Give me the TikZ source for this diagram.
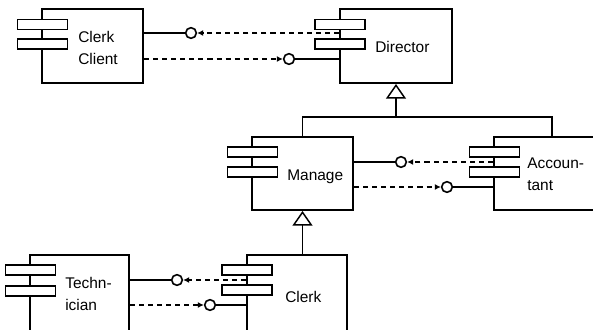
\documentclass[tikz,border=0pt]{standalone}
\usepackage{fontspec}
\setmainfont{Liberation Sans}
\usepackage{tikz}
\usetikzlibrary{arrows.meta}

\tikzset{
  comp/.style={draw, line width=1.5pt, inner sep=0pt},
  tab/.style={draw, fill=white, line width=1.2pt, inner sep=0pt, minimum width=37.5pt, minimum height=7.5pt},
  lolli/.style={draw, circle, line width=1.2pt, inner sep=0pt, minimum size=8pt},
  iface/.style={line width=1.1pt},
  dep/.style={line width=1.1pt, dash pattern=on 3.8pt off 3pt, -{Latex[length=4.5pt,width=4.5pt]}},
  gen/.style={line width=1.1pt, -{Triangle[open,length=11pt,width=15pt,line width=1.1pt]}},
  lbl/.style={anchor=west, inner sep=0pt, align=left, font=\fontsize{11.6}{16.5}\selectfont}
}

\begin{document}
\begin{tikzpicture}[x=0.75pt,y=0.75pt,yscale=-1,xscale=1]
	\useasboundingbox (0,0) rectangle (593,329);
	\clip (0,0) rectangle (593,329);
	
	%Shape: Component [Clerk Client]
	\node [comp, minimum width=75.75pt, minimum height=55.5pt] (cc) at (92.5,46) {};
	\node [tab] (cct1) at (42.5,24.5) {};
	\node [tab] (cct2) at (42.5,44) {};
	% Text Node
	\node [lbl] (cctxt) at (78,47.5) {Clerk\\Client};
	
	%Shape: Component [Director]
	\node [comp, minimum width=84pt, minimum height=55.5pt] (dir) at (396,46) {};
	\node [tab] (dirt1) at (340,24.5) {};
	\node [tab] (dirt2) at (340,44) {};
	% Text Node
	\node [lbl] (dirtxt) at (375,47) {Director};
	
	%Shape: Component [Manage]
	\node [comp, minimum width=75.75pt, minimum height=54.75pt] (man) at (302.5,173.5) {};
	\node [tab] (mant1) at (252.5,152) {};
	\node [tab] (mant2) at (252.5,172) {};
	% Text Node
	\node [lbl] (mantxt) at (287,177) {Manage};
	
	%Shape: Component [Accountant]
	\node [comp, minimum width=87pt, minimum height=54.75pt] (acc) at (552,173.5) {};
	\node [tab] (acct1) at (494.5,152) {};
	\node [tab] (acct2) at (494.5,172) {};
	% Text Node
	\node [lbl] (acctxt) at (527,174) {Accoun-\\tant};
	
	%Shape: Component [Technician]
	\node [comp, minimum width=74.25pt, minimum height=67.5pt] (tec) at (79.5,300) {};
	\node [tab] (tect1) at (30.5,270) {};
	\node [tab] (tect2) at (30.5,291) {};
	% Text Node
	\node [lbl] (tectxt) at (65,294) {Techn-\\ician};
	
	%Shape: Component [Clerk]
	\node [comp, minimum width=75pt, minimum height=67.5pt] (clk) at (297,300) {};
	\node [tab] (clkt1) at (247,270) {};
	\node [tab] (clkt2) at (247,290) {};
	% Text Node
	\node [lbl] (clktxt) at (285,297) {Clerk};
	
	%Interfaces: Clerk Client -- Director
	\node [lolli] (ccif) at (191,33) {};
	\node [lolli] (dirif) at (289,59) {};
	\draw [iface] (cc.east |- ccif) -- (ccif);
	\draw [dep] (dir.west |- ccif) -- (ccif);
	\draw [dep] (cc.east |- dirif) -- (dirif);
	\draw [iface] (dirif) -- (dir.west |- dirif);
	
	%Interfaces: Manage -- Accountant
	\node [lolli] (manif) at (401,162) {};
	\node [lolli] (accif) at (447,187) {};
	\draw [iface] (man.east |- manif) -- (manif);
	\draw [dep] (acc.west |- manif) -- (manif);
	\draw [dep] (man.east |- accif) -- (accif);
	\draw [iface] (accif) -- (acc.west |- accif);
	
	%Interfaces: Technician -- Clerk
	\node [lolli] (tecif) at (177,280) {};
	\node [lolli] (clkif) at (210,305) {};
	\draw [iface] (tec.east |- tecif) -- (tecif);
	\draw [dep] (clk.west |- tecif) -- (tecif);
	\draw [dep] (tec.east |- clkif) -- (clkif);
	\draw [iface] (clkif) -- (clk.west |- clkif);
	
	%Generalization
	\coordinate (bus) at (396,117);
	\draw [gen] (bus) -- (dir.south);
	\draw [iface] (man.north) -- (man.north |- bus) -| (acc.north);
	\draw [iface] (man.north |- bus) -- (bus);
	\draw [gen] (man.south |- clk.north) -- (man.south);
	
\end{tikzpicture}
\end{document}
